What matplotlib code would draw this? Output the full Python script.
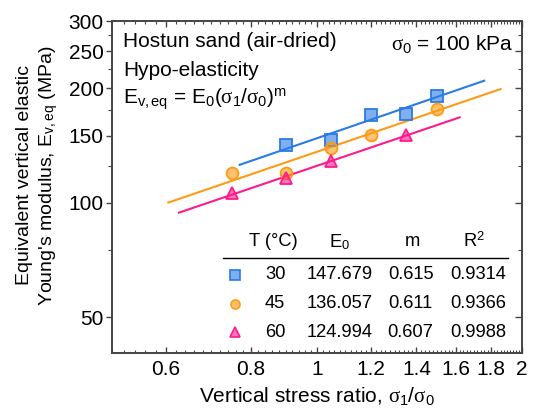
import matplotlib
matplotlib.use('Agg')
import matplotlib.pyplot as plt
import numpy as np
from matplotlib.ticker import FixedLocator, FixedFormatter, MultipleLocator, NullFormatter

plt.rcParams['font.family'] = ['Liberation Sans', 'DejaVu Sans']
plt.rcParams['mathtext.fontset'] = 'custom'
plt.rcParams['mathtext.rm'] = 'Liberation Sans'
plt.rcParams['mathtext.it'] = 'Liberation Serif'
plt.rcParams['mathtext.bf'] = 'Liberation Sans:bold'

# ── data ─────────────────────────────────────────────
temps = ['30', '45', '60']
colors = ['#2a7be4', '#ff9a14', '#ff1a8c']
markers = ['s', 'o', '^']

x_30 = [0.9, 1.05, 1.2, 1.35, 1.5]
y_30 = [141.6, 146.5, 170.3, 171.0, 191.0]
x_45 = [0.75, 0.9, 1.05, 1.2, 1.5]
y_45 = [119.8, 119.8, 139.3, 151.0, 176.6]
x_60 = [0.75, 0.9, 1.05, 1.35]
y_60 = [106.2, 116.3, 128.9, 151.0]

E0 = [147.679, 136.057, 124.994]
m = [0.615, 0.611, 0.607]
R2 = [0.9314, 0.9366, 0.9988]
fit_lo = [0.77, 0.605, 0.627]
fit_hi = [1.76, 1.86, 1.62]

xs = [x_30, x_45, x_60]
ys = [y_30, y_45, y_60]

FS = 15        # annotations / tick labels
FS_LAB = 14    # axis titles
FS_TAB = 13.2  # table text

# ── figure ───────────────────────────────────────────
fig = plt.figure(figsize=(5.34, 4.12), dpi=100)
ax = fig.add_axes((0.2097, 0.1432, 0.7678, 0.8058))
ax.set_xscale('log')
ax.set_yscale('log')
ax.set_xlim(0.5, 2.0)
ax.set_ylim(40.3, 300)

for i in range(3):
    xf = np.geomspace(fit_lo[i], fit_hi[i], 50)
    ax.plot(xf, E0[i] * xf ** m[i], color=colors[i], lw=1.5, zorder=2)
    ax.plot(xs[i], ys[i], linestyle='none', marker=markers[i], ms=8.5,
            mfc=matplotlib.colors.to_rgba(colors[i], 0.6), mec=colors[i],
            mew=1.3, zorder=3)

# ticks
ax.xaxis.set_major_locator(FixedLocator([0.6, 0.8, 1, 1.2, 1.4, 1.6, 1.8, 2]))
ax.xaxis.set_major_formatter(FixedFormatter(['0.6', '0.8', '1', '1.2', '1.4', '1.6', '1.8', '2']))
ax.xaxis.set_minor_locator(MultipleLocator(0.02))
ax.xaxis.set_minor_formatter(NullFormatter())
ax.yaxis.set_major_locator(FixedLocator([50, 100, 150, 200, 250, 300]))
ax.yaxis.set_major_formatter(FixedFormatter(['50', '100', '150', '200', '250', '300']))
ax.yaxis.set_minor_locator(FixedLocator([75, 125, 175, 225, 275]))
ax.yaxis.set_minor_formatter(NullFormatter())

ax.tick_params(axis='both', which='major', labelsize=FS, color='#444444', width=1.0)
ax.tick_params(axis='both', which='minor', color='#444444', width=0.8)
ax.tick_params(axis='x', which='major', direction='in', top=True, length=4, pad=5)
ax.tick_params(axis='x', which='minor', direction='in', top=True, length=2)
ax.tick_params(axis='y', which='major', direction='out', length=4, pad=2)
ax.tick_params(axis='y', which='minor', direction='out', length=3)

# right-side inward ticks
axr = ax.twinx()
axr.set_yscale('log')
axr.set_ylim(ax.get_ylim())
axr.yaxis.set_major_locator(FixedLocator([50, 100, 150, 200, 250, 300]))
axr.yaxis.set_minor_locator(FixedLocator([75, 125, 175, 225, 275]))
axr.yaxis.set_major_formatter(NullFormatter())
axr.yaxis.set_minor_formatter(NullFormatter())
axr.tick_params(axis='y', which='major', direction='in', length=5, color='#444444', width=1.0)
axr.tick_params(axis='y', which='minor', direction='in', length=3, color='#444444', width=0.8)

for a in (ax, axr):
    for sp in a.spines.values():
        sp.set_color('#444444')
        sp.set_linewidth(1.2)

ax.set_xlabel(r'Vertical stress ratio, $\sigma_1/\sigma_0$', fontsize=FS, labelpad=4)
ax.set_ylabel("Equivalent vertical elastic\nYoung's modulus, E$_{\\rm v,eq}$ (MPa)",
              fontsize=FS_LAB, linespacing=1.25)
ax.yaxis.set_label_coords(-0.127, 0.535)

# annotations
ax.text(0.027, 0.937, 'Hostun sand (air-dried)', transform=ax.transAxes,
        fontsize=FS, va='center', ha='left')
ax.text(0.027, 0.852, 'Hypo-elasticity', transform=ax.transAxes,
        fontsize=FS, va='center', ha='left')
ax.text(0.027, 0.765, r'E$_{\rm v,eq}$ = E$_{\rm 0}$($\sigma_1/\sigma_0$)$^{\rm m}$',
        transform=ax.transAxes, fontsize=FS, va='center', ha='left')
ax.text(0.978, 0.932, r'$\sigma_0$ = 100 kPa', transform=ax.transAxes,
        fontsize=FS, va='center', ha='right')

# fit-parameter table
hdr_y = 0.335
row_y = [0.235, 0.148, 0.062]
col_x = [0.398, 0.555, 0.7285, 0.893]
ax.text(0.393, hdr_y, 'T (°C)', transform=ax.transAxes, fontsize=FS_TAB, ha='center', va='center')
ax.text(0.554, hdr_y, r'E$_{\rm 0}$', transform=ax.transAxes, fontsize=FS_TAB, ha='center', va='center')
ax.text(0.733, hdr_y, 'm', transform=ax.transAxes, fontsize=FS_TAB, ha='center', va='center')
ax.text(0.883, hdr_y, r'R$^{\rm 2}$', transform=ax.transAxes, fontsize=FS_TAB, ha='center', va='center')
ax.plot([0.271, 0.966], [0.285, 0.285], transform=ax.transAxes, color='black', lw=1.0)

for i in range(3):
    ax.plot([0.300], [row_y[i]], transform=ax.transAxes, linestyle='none',
            marker=markers[i], ms=6.5, mfc=matplotlib.colors.to_rgba(colors[i], 0.6),
            mec=colors[i], mew=1.2, clip_on=False)
    vals = [temps[i], f'{E0[i]:.3f}', f'{m[i]:.3f}', f'{R2[i]:.4f}']
    for cx, v in zip(col_x, vals):
        ax.text(cx, row_y[i], v, transform=ax.transAxes, fontsize=FS_TAB,
                ha='center', va='center')

fig.savefig('out.png', dpi=100)
